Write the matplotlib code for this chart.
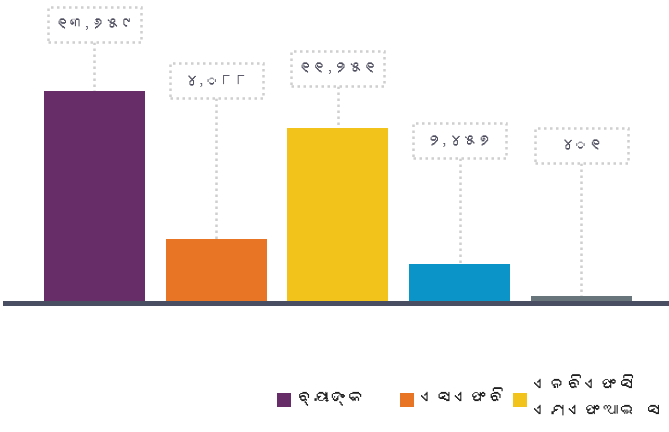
import matplotlib
matplotlib.use("Agg")
import matplotlib.pyplot as plt
from matplotlib import font_manager
from matplotlib.patches import Rectangle

# --- data ---
categories = ["ବ୍ୟାଙ୍କ", "ଏସଏଫବି", "ଏନବିଏଫସି\nଏମଏଫଆଇ ସ"]
values = [13659, 4088, 11251, 2457, 401]
value_labels = ["୧୩,୬୫୯", "୪,୦୮୮", "୧୧,୨୫୧", "୨,୪୫୭", "୪୦୧"]

# --- styles / positions ---
colors = ["#662d69", "#e87425", "#f2c31b", "#0a94c8", "#68757a"]
label_y = [17950, 14300, 15100, 10450, 10150]   # centre of each value box
legend_x = [277, 400, 513]                       # pixel x of legend squares
BOX_W, BOX_H = 0.764, 2260
DOT = "#cfcfcf"
W, H = 669, 432


def find_odia_font():
    try:
        from fontTools.ttLib import TTFont
    except Exception:
        return None
    for f in font_manager.fontManager.ttflist:
        try:
            cmap = TTFont(f.fname, fontNumber=0, lazy=True).getBestCmap()
            if 0x0B2C in cmap and 0x0B67 in cmap:
                return f.name
        except Exception:
            continue
    return None


odia_font = find_odia_font()
families = [odia_font, "DejaVu Sans"] if odia_font else ["DejaVu Sans"]
plt.rcParams["font.family"] = families

fig = plt.figure(figsize=(W / 100, H / 100), dpi=100)
ax = fig.add_axes([5 / W, 1 - 302.5 / H, 664 / W, 302.5 / H])

x = list(range(len(values)))
ax.bar(x, values, width=0.83, color=colors, zorder=2)
ax.axhline(0, color="#4a4e62", lw=3.6, zorder=3, clip_on=False)

for xi, v, lab, ly in zip(x, values, value_labels, label_y):
    # dotted connector from the box down to the bar
    ax.plot([xi, xi], [ly - BOX_H / 2, v], color=DOT, lw=1.8,
            linestyle=(0, (1, 1.4)), zorder=1)
    ax.add_patch(Rectangle((xi - BOX_W / 2, ly - BOX_H / 2), BOX_W, BOX_H,
                           facecolor="white", edgecolor=DOT, lw=1.8,
                           linestyle=(0, (1, 1.4)), zorder=4))
    ax.text(xi, ly, lab, ha="center", va="center", fontsize=10.5,
            fontweight="bold", color="#4d4d5f", zorder=5)

ax.set_xlim(-0.735, 4.719)
ax.set_ylim(0, 19520)
ax.axis("off")

# legend, drawn by hand so each entry sits where the reference has it
for lx, c, name in zip(legend_x, colors, categories):
    fig.add_artist(Rectangle((lx / W, 1 - 407 / H), 14 / W, 14 / H,
                             transform=fig.transFigure, facecolor=c,
                             edgecolor="none"))
    fig.text((lx + 20) / W, 1 - 398 / H, name, ha="left", va="center",
             fontsize=12.5, fontweight="bold", color="#1e1e1e",
             linespacing=2.05)

fig.savefig("out.png", dpi=100)
